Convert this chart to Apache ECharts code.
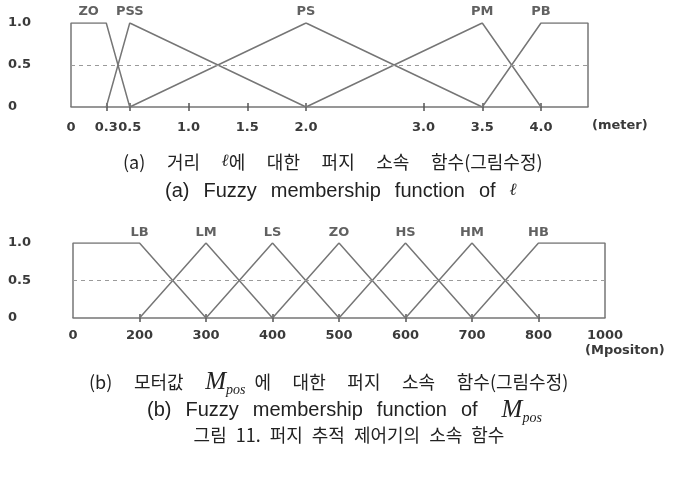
<!DOCTYPE html>
<html><head><meta charset="utf-8">
<script src="https://cdn.jsdelivr.net/npm/echarts@6/dist/echarts.min.js"></script>
<style>html,body{margin:0;padding:0;background:#fff}#c{width:698px;height:483px}</style>
</head><body><div id="c"></div>
<script>
// (a) distance l, meters
const distTicks = [0, 0.3, 0.5, 1.0, 1.5, 2.0, 3.0, 3.5, 4.0];
const distMax = 4.4;
const distSetNames = ['ZO', 'PSS', 'PS', 'PM', 'PB'];
const distSetX = [[0, 0, 0.3, 0.5], [0.3, 0.5, 2.0], [0.5, 2.0, 3.5], [2.0, 3.5, 4.0], [3.5, 4.0, 4.4, 4.4]];
const distSetY = [[0, 1, 1, 0], [0, 1, 0], [0, 1, 0], [0, 1, 0], [0, 1, 1, 0]];
const distLabelX = [0.15, 0.5, 2.0, 3.5, 4.0];
// (b) motor value M_pos
const motorCats = ['0', '200', '300', '400', '500', '600', '700', '800', '1000'];
const motorSetNames = ['LB', 'LM', 'LS', 'ZO', 'HS', 'HM', 'HB'];
const motorSetX = [['0', '0', '200', '300'], ['200', '300', '400'], ['300', '400', '500'], ['400', '500', '600'],
  ['500', '600', '700'], ['600', '700', '800'], ['700', '800', '1000', '1000']];
const motorSetY = [[0, 1, 1, 0], [0, 1, 0], [0, 1, 0], [0, 1, 0], [0, 1, 0], [0, 1, 0], [0, 1, 1, 0]];
const motorLabelX = ['200', '300', '400', '500', '600', '700', '800'];
const yTicks = [0, 0.5, 1.0];

const LINE = '#767676';
const labFont = { fontFamily: 'DejaVu Sans', fontWeight: 'bold', fontSize: 13, color: '#3a3a3a' };
const dashed = {
  silent: true, symbol: 'none', label: { show: false },
  lineStyle: { type: [4, 4], color: '#9a9a9a', width: 1 },
  data: [{ yAxis: 0.5 }]
};

function setSeries(xs, ys, axisIdx) {
  return xs.map((x, i) => ({
    type: 'line', xAxisIndex: axisIdx, yAxisIndex: axisIdx, symbol: 'none', silent: true,
    lineStyle: { color: LINE, width: 1.5 },
    data: x.map((v, j) => [v, ys[i][j]]),
    markLine: i === 0 ? dashed : undefined
  }));
}
function labelSeries(names, xs, axisIdx, dist) {
  return {
    type: 'scatter', xAxisIndex: axisIdx, yAxisIndex: axisIdx, symbolSize: 0, silent: true,
    label: { show: true, position: 'top', distance: dist, formatter: p => p.name, ...labFont },
    data: names.map((n, i) => ({ name: n, value: [xs[i], 1] }))
  };
}
const yAxisCommon = (margin) => ({
  type: 'value', min: 0, max: 1, interval: 0.5,
  axisLine: { show: false }, axisTick: { show: false }, splitLine: { show: false },
  axisLabel: { align: 'left', margin: margin, formatter: v => v === 0 ? '0' : v.toFixed(1), ...labFont }
});
const tickStyle = { color: '#555', width: 1.5 };

const cap = { fontFamily: 'Noto Sans CJK KR', fontWeight: 'normal', fontSize: 18, color: '#222' };
const en = { fontFamily: 'Liberation Sans', fontWeight: 'normal', fontSize: 20, color: '#222' };
const mi = { fontFamily: 'DejaVu Serif', fontStyle: 'italic', fontWeight: 'normal', fontSize: 17, color: '#222' };
const Mi = { fontFamily: 'Liberation Serif', fontStyle: 'italic', fontWeight: 'normal', fontSize: 25, color: '#222' };
const sub = { fontFamily: 'Liberation Serif', fontStyle: 'italic', fontWeight: 'normal', fontSize: 14, color: '#222', padding: [16, 0, 0, 0] };
const W = '\u2003\u2009';   // wide caption space
const S = '\u2002';         // medium caption space
const E = '\u2002\u2009';   // english caption space

const chart = echarts.init(document.getElementById('c'), null, { renderer: 'canvas' });
chart.setOption({
  animation: false,
  backgroundColor: '#fff',
  title: [
    { left: 118, top: 148, text: `{k|(a)${W}거리${W}}{m|ℓ}{k|에${W}대한${W}퍼지${W}소속${W}함수(그림수정)}`, textStyle: { rich: { k: cap, m: mi } } },
    { left: 160, top: 176, text: `{e|(a)${E}Fuzzy${E}membership${E}function${E}of${E}}{m|ℓ}`, textStyle: { rich: { e: en, m: mi } } },
    { left: 84, top: 362, text: `{k|(b)${W}모터값${W}}{M|M}{s|pos}{k|${S}에${W}대한${W}퍼지${W}소속${W}함수(그림수정)}`, textStyle: { rich: { k: cap, M: Mi, s: sub } } },
    { left: 142, top: 390, text: `{e|(b)${E}Fuzzy${E}membership${E}function${E}of${W}}{M|M}{s|pos}`, textStyle: { rich: { e: en, M: Mi, s: sub } } },
    { left: 'center', top: 421, text: `{k|그림${S}11.${S}퍼지${S}추적${S}제어기의${S}소속${S}함수}`, textStyle: { rich: { k: cap } } }
  ],
  graphic: [
    { type: 'text', left: 592, top: 119, style: { text: '(meter)', font: 'bold 13px "DejaVu Sans"', fill: '#3a3a3a' } },
    { type: 'text', left: 585, top: 344, style: { text: '(Mpositon)', font: 'bold 13px "DejaVu Sans"', fill: '#3a3a3a' } }
  ],
  grid: [
    { left: 71, width: 517, top: 23, height: 84 },
    { left: 73, width: 532, top: 243, height: 75 }
  ],
  xAxis: [
    {
      gridIndex: 0, type: 'value', min: 0, max: distMax, position: 'bottom',
      axisLine: { show: true, lineStyle: { color: LINE, width: 1.5 } },
      axisTick: { show: true, customValues: distTicks.slice(1), length: 4, lineStyle: tickStyle },
      splitLine: { show: false },
      axisLabel: { customValues: distTicks, margin: 14, formatter: v => v === 0 ? '0' : v.toFixed(1), ...labFont }
    },
    {
      gridIndex: 1, type: 'category', data: motorCats, boundaryGap: false, position: 'bottom',
      axisLine: { show: true, lineStyle: { color: LINE, width: 1.5 } },
      axisTick: { show: true, alignWithLabel: true, interval: (i) => i > 0 && i < motorCats.length - 1, length: 4, lineStyle: tickStyle },
      splitLine: { show: false },
      axisLabel: { interval: 0, margin: 11, ...labFont }
    },
    {
      gridIndex: 0, type: 'value', min: 0, max: distMax, position: 'bottom', offset: 0,
      axisLine: { show: false },
      axisTick: { show: true, inside: true, customValues: distTicks.slice(1), length: 4, lineStyle: tickStyle },
      splitLine: { show: false }, axisLabel: { show: false }
    },
    {
      gridIndex: 1, type: 'category', data: motorCats, boundaryGap: false, position: 'bottom', offset: 0,
      axisLine: { show: false },
      axisTick: { show: true, inside: true, alignWithLabel: true, interval: (i) => i > 0 && i < motorCats.length - 1, length: 4, lineStyle: tickStyle },
      splitLine: { show: false }, axisLabel: { show: false }
    }
  ],
  yAxis: [
    { gridIndex: 0, ...yAxisCommon(63) },
    { gridIndex: 1, ...yAxisCommon(65) }
  ],
  series: [
    ...setSeries(distSetX, distSetY, 0),
    labelSeries(distSetNames, distLabelX, 0, 5),
    ...setSeries(motorSetX, motorSetY, 1),
    labelSeries(motorSetNames, motorLabelX, 1, 4)
  ]
});
</script></body></html>
